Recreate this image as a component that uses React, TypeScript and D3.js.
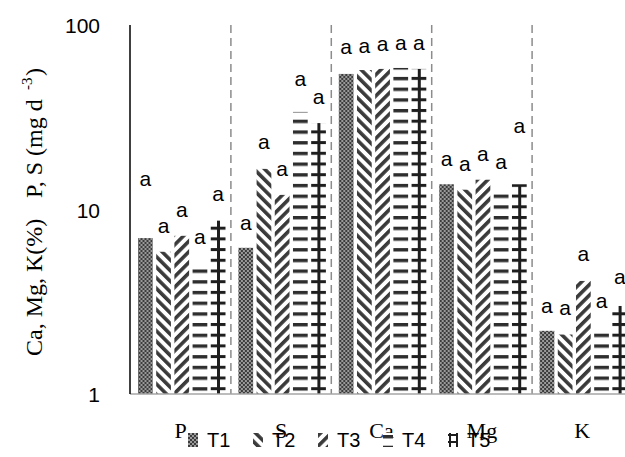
import React, { Component } from 'react';
import * as d3 from 'd3';

const categories = ['P', 'S', 'Ca', 'Mg', 'K'];
const seriesNames = ['T1', 'T2', 'T3', 'T4', 'T5'];

// bar heights per series (P, S, Ca, Mg, K)
const t1Values = [7.0, 6.2, 54.3, 13.7, 2.2];
const t2Values = [5.9, 16.6, 57.0, 12.8, 2.1];
const t3Values = [7.2, 12.0, 57.8, 14.5, 4.1];
const t4Values = [5.1, 33.8, 58.5, 12.9, 2.3];
const t5Values = [8.7, 29.4, 57.8, 13.7, 3.0];

// where the letter "a" sits (same log units)
const t1Letters = [14.5, 8.35, 75.0, 18.5, 2.96];
const t2Letters = [8.0, 22.9, 76.0, 17.4, 2.89];
const t3Letters = [9.8, 16.4, 77.9, 19.7, 5.67];
const t4Letters = [7.0, 50.3, 78.9, 17.9, 3.15];
const t5Letters = [12.0, 40.2, 78.9, 28.0, 4.25];

const yTicks = [1, 10, 100];

const allValues = [t1Values, t2Values, t3Values, t4Values, t5Values];
const allLetters = [t1Letters, t2Letters, t3Letters, t4Letters, t5Letters];

class App extends Component {
    componentDidMount() {
        const W = 625, H = 457;
        const root = d3.select('#chart');
        root.selectAll('*').remove();

        const svg = root.append('svg')
            .attr('width', W)
            .attr('height', H)
            .style('display', 'block')
            .style('position', 'absolute')
            .style('left', 0)
            .style('top', 0)
            .style('background', '#fff');

        const sans = '"Liberation Sans", Arial, sans-serif';
        const serif = '"Liberation Serif", "Times New Roman", serif';

        // patterns
        const defs = svg.append('defs');

        const p1 = defs.append('pattern').attr('id', 'pat-T1')
            .attr('patternUnits', 'userSpaceOnUse').attr('width', 4).attr('height', 4);
        p1.append('rect').attr('width', 4).attr('height', 4).attr('fill', '#9a9a9a');
        p1.append('rect').attr('x', 0).attr('y', 0).attr('width', 2).attr('height', 2).attr('fill', '#3c3c3c');
        p1.append('rect').attr('x', 2).attr('y', 2).attr('width', 2).attr('height', 2).attr('fill', '#3c3c3c');

        [['pat-T2', -45], ['pat-T3', 45]].forEach(([id, ang]) => {
            const p = defs.append('pattern').attr('id', id)
                .attr('patternUnits', 'userSpaceOnUse').attr('width', 7.5).attr('height', 7.5)
                .attr('patternTransform', 'rotate(' + ang + ')');
            p.append('rect').attr('width', 7.5).attr('height', 7.5).attr('fill', '#fff');
            p.append('rect').attr('x', 0).attr('width', 3.6).attr('height', 7.5).attr('fill', '#3a3a3a');
        });

        const p4 = defs.append('pattern').attr('id', 'pat-T4')
            .attr('patternUnits', 'userSpaceOnUse').attr('width', 12).attr('height', 10.7).attr('y', 2);
        p4.append('rect').attr('width', 12).attr('height', 10.7).attr('fill', '#fff');
        p4.append('rect').attr('y', 0).attr('width', 12).attr('height', 3.4).attr('fill', '#2e2e2e');

        const p5 = defs.append('pattern').attr('id', 'pat-T5')
            .attr('patternUnits', 'userSpaceOnUse').attr('width', 12).attr('height', 10.7)
            .attr('x', 2.5).attr('y', 2);
        p5.append('rect').attr('width', 12).attr('height', 10.7).attr('fill', '#fff');
        p5.append('rect').attr('y', 0).attr('width', 12).attr('height', 3).attr('fill', '#1e1e1e');
        p5.append('rect').attr('x', 0).attr('width', 3).attr('height', 10.7).attr('fill', '#1e1e1e');

        // legend uses a finer grid for T5 so the swatch reads as "#"
        const p5s = defs.append('pattern').attr('id', 'pat-T5-legend')
            .attr('patternUnits', 'userSpaceOnUse').attr('width', 7).attr('height', 7)
            .attr('x', 1).attr('y', 1);
        p5s.append('rect').attr('width', 7).attr('height', 7).attr('fill', '#fff');
        p5s.append('rect').attr('width', 7).attr('height', 2).attr('fill', '#1e1e1e');
        p5s.append('rect').attr('width', 2).attr('height', 7).attr('fill', '#1e1e1e');

        // scales
        const x0 = d3.scaleBand().domain(categories).range([130.5, 632.5]).padding(0);
        const x1 = d3.scaleBand().domain(seriesNames).range([7.5, 95]).paddingInner(0.19);
        const y = d3.scaleLog().domain([1, 100]).range([394, 25]);

        // group separators
        svg.append('g').selectAll('line')
            .data(categories.slice(1))
            .enter().append('line')
            .attr('x1', d => x0(d))
            .attr('x2', d => x0(d))
            .attr('y1', y(100))
            .attr('y2', y(1))
            .attr('stroke', '#8c8c8c')
            .attr('stroke-width', 1.5)
            .attr('stroke-dasharray', '8,5');

        // bars
        const groups = svg.append('g').selectAll('g')
            .data(categories)
            .enter().append('g')
            .attr('transform', d => 'translate(' + x0(d) + ',0)');

        groups.selectAll('rect')
            .data((d, ci) => seriesNames.map((s, si) => ({ s, v: allValues[si][ci] })))
            .enter().append('rect')
            .attr('x', d => x1(d.s))
            .attr('y', d => y(d.v))
            .attr('width', x1.bandwidth())
            .attr('height', d => y(1) - y(d.v))
            .attr('fill', d => 'url(#pat-' + d.s + ')');

        groups.selectAll('text')
            .data((d, ci) => seriesNames.map((s, si) => ({ s, v: allLetters[si][ci] })))
            .enter().append('text')
            .attr('x', d => x1(d.s) + x1.bandwidth() / 2)
            .attr('y', d => y(d.v) + 6)
            .attr('text-anchor', 'middle')
            .style('font-family', sans)
            .style('font-size', '21px')
            .attr('fill', '#000')
            .text('a');

        // axes lines
        svg.append('line')
            .attr('x1', 130).attr('x2', 625)
            .attr('y1', y(1)).attr('y2', y(1))
            .attr('stroke', '#a6a6a6').attr('stroke-width', 1.5);
        svg.append('line')
            .attr('x1', 130).attr('x2', 130)
            .attr('y1', y(100)).attr('y2', y(1))
            .attr('stroke', '#000').attr('stroke-width', 1.5);

        // y tick labels
        svg.append('g').selectAll('text')
            .data(yTicks)
            .enter().append('text')
            .attr('x', 100)
            .attr('y', d => y(d) + 8)
            .attr('text-anchor', 'end')
            .style('font-family', sans)
            .style('font-size', '21px')
            .attr('fill', '#000')
            .text(d => d);

        // category labels
        svg.append('g').selectAll('text')
            .data(categories)
            .enter().append('text')
            .attr('x', d => x0(d) + x0.bandwidth() / 2)
            .attr('y', 438)
            .attr('text-anchor', 'middle')
            .style('font-family', serif)
            .style('font-size', '22px')
            .attr('fill', '#000')
            .text(d => d);

        // y title
        const title = svg.append('text')
            .attr('transform', 'translate(42,0) rotate(-90)')
            .style('font-family', serif)
            .style('font-size', '24px')
            .attr('fill', '#000');
        title.append('tspan').attr('x', -356).attr('y', 0).text('Ca, Mg, K(%)');
        title.append('tspan').attr('x', -198).attr('y', 0).text('P, S (mg d');
        title.append('tspan').attr('x', -90).attr('y', -10).style('font-size', '15px').text('-3');
        title.append('tspan').attr('x', -76).attr('y', 0).text(')');

        // legend
        const legend = svg.append('g').selectAll('g')
            .data(seriesNames)
            .enter().append('g')
            .attr('transform', (d, i) => 'translate(' + (188 + i * 65) + ',433)');
        legend.append('rect')
            .attr('width', 10).attr('height', 14)
            .attr('fill', d => d === 'T5' ? 'url(#pat-T5-legend)' : 'url(#pat-' + d + ')');
        legend.append('text')
            .attr('x', 19).attr('y', 14)
            .style('font-family', sans)
            .style('font-size', '20px')
            .attr('fill', '#000')
            .text(d => d);
    }

    render() {
        return <div id="chart" style={{ width: 625, height: 457 }} />;
    }
}

export default App;
